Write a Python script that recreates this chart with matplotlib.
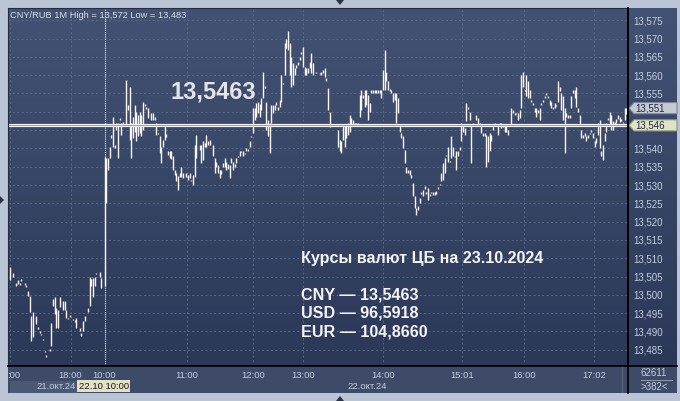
import numpy as np
import matplotlib.pyplot as plt
from matplotlib.colors import LinearSegmentedColormap
from matplotlib.patches import Polygon, Rectangle
from matplotlib.lines import Line2D

# CNY/RUB 1-minute bars; slot = bar position on the (gap-less) time axis
bar_slot = ([1, 3, 5, 6, 7, 8, 10, 11, 12, 13, 14, 15, 17, 18, 19, 20, 21, 22, 23, 25,
             26, 27, 28, 29, 30, 31, 33, 34, 35, 36, 37, 39, 40, 41, 43, 44, 45, 46, 48,
             49, 50, 51, 52, 53, 55, 56]
            + list(range(58, 85)) + list(range(86, 106)) + list(range(107, 114))
            + list(range(115, 122)) + list(range(123, 184)) + [185]
            + list(range(187, 372)))

bar_high = [
    # 21.10 evening
    13.5075, 13.5061, 13.5032, 13.5040, 13.5033, 13.5043, 13.5032, 13.5026, 13.5010, 13.4996,
    13.4942, 13.4952, 13.4942, 13.4912, 13.4900, 13.4894, 13.4880, 13.4848, 13.4835, 13.4852,
    13.4924, 13.4989, 13.4993, 13.4965, 13.4960, 13.4993, 13.4983, 13.4983, 13.4960, 13.4937,
    13.4944, 13.4935, 13.4930, 13.4938, 13.4910, 13.4897, 13.4928, 13.4942, 13.4965, 13.5050,
    13.5042, 13.5045, 13.5050, 13.5061, 13.5062, 13.5045,
    # 22.10 from 10:00
    13.5377, 13.5375, 13.5375, 13.5405, 13.5437, 13.5487, 13.5410, 13.5470, 13.5469, 13.5482,
    13.5470, 13.5471, 13.5468, 13.5587, 13.5519, 13.5569, 13.5469, 13.5487, 13.5519, 13.5500,
    13.5492, 13.5500, 13.5492, 13.5528, 13.5520, 13.5512, 13.5510,
    13.5496, 13.5496, 13.5487, 13.5470, 13.5442, 13.5433, 13.5405, 13.5424, 13.5464, 13.5438,
    13.5392, 13.5392, 13.5392, 13.5378, 13.5342, 13.5334, 13.5324, 13.5333, 13.5350, 13.5333,
    13.5333, 13.5328, 13.5333, 13.5314, 13.5328, 13.5410, 13.5437,
    13.5410, 13.5410, 13.5419, 13.5416, 13.5437, 13.5420, 13.5424,
    # 11:30 - 13:30
    13.5410, 13.5374, 13.5364, 13.5355, 13.5342, 13.5342, 13.5360, 13.5374, 13.5364, 13.5358,
    13.5355, 13.5374, 13.5364, 13.5358, 13.5374, 13.5380, 13.5392, 13.5394, 13.5392, 13.5388,
    13.5401, 13.5398, 13.5419, 13.5435, 13.5510, 13.5510, 13.5524, 13.5528, 13.5520, 13.5537,
    13.5610, 13.5570, 13.5528, 13.5478, 13.5469, 13.5519, 13.5519, 13.5519, 13.5528, 13.5514,
    13.5533, 13.5600, 13.5580, 13.5687, 13.5700, 13.5720, 13.5687, 13.5650, 13.5633, 13.5619,
    13.5628, 13.5637, 13.5650, 13.5662, 13.5678, 13.5623, 13.5619, 13.5619, 13.5637, 13.5660,
    13.5633,
    # 13:30 - 14:45
    13.5610,
    13.5607, 13.5610, 13.5614, 13.5619, 13.5592, 13.5565, 13.5500, 13.5468, 13.5468, 13.5468,
    13.5466, 13.5451, 13.5424, 13.5419, 13.5464, 13.5464, 13.5460, 13.5469, 13.5492, 13.5483,
    13.5478, 13.5469, 13.5469, 13.5469, 13.5546, 13.5560, 13.5546, 13.5560, 13.5560, 13.5546,
    13.5524, 13.5560, 13.5560, 13.5560, 13.5560, 13.5560, 13.5560, 13.5560, 13.5614, 13.5669,
    13.5610, 13.5583, 13.5562, 13.5560, 13.5550, 13.5550, 13.5550, 13.5537, 13.5464, 13.5442,
    13.5433, 13.5396, 13.5350, 13.5342, 13.5342, 13.5328, 13.5306, 13.5269, 13.5237, 13.5242,
    # 14:45 - 16:00
    13.5265, 13.5280, 13.5287, 13.5296, 13.5280, 13.5292, 13.5275, 13.5282, 13.5280, 13.5280,
    13.5285, 13.5294, 13.5304, 13.5333, 13.5360, 13.5374, 13.5383, 13.5405, 13.5366, 13.5433,
    13.5405, 13.5380, 13.5392, 13.5392, 13.5405, 13.5469, 13.5464, 13.5455, 13.5524, 13.5512,
    13.5500, 13.5464, 13.5469, 13.5466, 13.5492, 13.5483, 13.5469, 13.5464, 13.5442, 13.5442,
    13.5437, 13.5433, 13.5442, 13.5437, 13.5464, 13.5469, 13.5466, 13.5464, 13.5469, 13.5469,
    13.5462, 13.5460, 13.5464, 13.5450, 13.5466, 13.5510, 13.5505, 13.5496, 13.5498, 13.5496,
    13.5505, 13.5600, 13.5610, 13.5560,
    # 16:00 - 17:15
    13.5600, 13.5583, 13.5560, 13.5533, 13.5524, 13.5510, 13.5510, 13.5505, 13.5510, 13.5524,
    13.5533, 13.5542, 13.5550, 13.5542, 13.5533, 13.5528, 13.5512, 13.5524, 13.5519, 13.5583,
    13.5569, 13.5550, 13.5542, 13.5510, 13.5496, 13.5492, 13.5492, 13.5542, 13.5560, 13.5560,
    13.5569, 13.5510, 13.5492, 13.5450, 13.5437, 13.5442, 13.5433, 13.5437, 13.5442, 13.5450,
    13.5442, 13.5419, 13.5428, 13.5470, 13.5478, 13.5392, 13.5410, 13.5442, 13.5470, 13.5482,
    13.5500, 13.5492, 13.5475, 13.5472, 13.5480, 13.5492, 13.5487, 13.5480, 13.5473, 13.5510,
    13.5510,
]

bar_low = [
    13.5040, 13.5050, 13.5023, 13.5030, 13.5028, 13.5039, 13.5028, 13.5022, 13.4998, 13.4952,
    13.4874, 13.4884, 13.4920, 13.4908, 13.4896, 13.4890, 13.4876, 13.4844, 13.4830, 13.4846,
    13.4859, 13.4970, 13.4947, 13.4910, 13.4910, 13.4966, 13.4960, 13.4960, 13.4938, 13.4933,
    13.4940, 13.4931, 13.4925, 13.4910, 13.4900, 13.4889, 13.4901, 13.4928, 13.4952, 13.4969,
    13.5024, 13.4993, 13.5024, 13.5058, 13.5050, 13.5020,
    13.5023, 13.5250, 13.5342, 13.5374, 13.5428, 13.5405, 13.5401, 13.5450, 13.5374, 13.5478,
    13.5437, 13.5467, 13.5464, 13.5464, 13.5505, 13.5424, 13.5374, 13.5428, 13.5446, 13.5419,
    13.5435, 13.5442, 13.5433, 13.5450, 13.5516, 13.5508, 13.5483,
    13.5478, 13.5478, 13.5478, 13.5437, 13.5438, 13.5387, 13.5360, 13.5405, 13.5424, 13.5430,
    13.5383, 13.5374, 13.5370, 13.5342, 13.5328, 13.5310, 13.5287, 13.5323, 13.5323, 13.5319,
    13.5323, 13.5314, 13.5319, 13.5310, 13.5301, 13.5323, 13.5374,
    13.5396, 13.5360, 13.5369, 13.5405, 13.5405, 13.5410, 13.5410,
    13.5378, 13.5333, 13.5350, 13.5333, 13.5319, 13.5330, 13.5350, 13.5350, 13.5342, 13.5345,
    13.5319, 13.5360, 13.5342, 13.5350, 13.5360, 13.5376, 13.5378, 13.5390, 13.5378, 13.5384,
    13.5392, 13.5394, 13.5405, 13.5431, 13.5442, 13.5478, 13.5487, 13.5496, 13.5487, 13.5505,
    13.5537, 13.5566, 13.5450, 13.5433, 13.5387, 13.5469, 13.5496, 13.5505, 13.5519, 13.5505,
    13.5514, 13.5528, 13.5576, 13.5600, 13.5674, 13.5669, 13.5600, 13.5569, 13.5574, 13.5600,
    13.5619, 13.5628, 13.5642, 13.5658, 13.5623, 13.5600, 13.5600, 13.5605, 13.5619, 13.5605,
    13.5600,
    13.5605,
    13.5603, 13.5600, 13.5605, 13.5596, 13.5583, 13.5505, 13.5459, 13.5460, 13.5460, 13.5460,
    13.5462, 13.5405, 13.5392, 13.5387, 13.5424, 13.5405, 13.5428, 13.5437, 13.5446, 13.5460,
    13.5464, 13.5460, 13.5460, 13.5464, 13.5487, 13.5505, 13.5537, 13.5514, 13.5519, 13.5478,
    13.5500, 13.5550, 13.5550, 13.5550, 13.5550, 13.5550, 13.5550, 13.5537, 13.5560, 13.5560,
    13.5583, 13.5560, 13.5558, 13.5550, 13.5528, 13.5533, 13.5469, 13.5496, 13.5446, 13.5428,
    13.5401, 13.5360, 13.5333, 13.5333, 13.5328, 13.5319, 13.5269, 13.5237, 13.5219, 13.5233,
    13.5250, 13.5275, 13.5269, 13.5290, 13.5275, 13.5260, 13.5271, 13.5278, 13.5273, 13.5273,
    13.5276, 13.5290, 13.5300, 13.5310, 13.5314, 13.5333, 13.5378, 13.5364, 13.5362, 13.5374,
    13.5378, 13.5376, 13.5342, 13.5378, 13.5396, 13.5419, 13.5446, 13.5437, 13.5474, 13.5508,
    13.5478, 13.5360, 13.5460, 13.5462, 13.5478, 13.5464, 13.5464, 13.5442, 13.5433, 13.5433,
    13.5350, 13.5364, 13.5392, 13.5419, 13.5450, 13.5460, 13.5462, 13.5437, 13.5464, 13.5455,
    13.5458, 13.5446, 13.5446, 13.5437, 13.5462, 13.5464, 13.5496, 13.5492, 13.5494, 13.5478,
    13.5483, 13.5510, 13.5569, 13.5556,
    13.5542, 13.5537, 13.5537, 13.5528, 13.5519, 13.5500, 13.5487, 13.5496, 13.5478, 13.5519,
    13.5528, 13.5537, 13.5546, 13.5537, 13.5519, 13.5510, 13.5508, 13.5510, 13.5515, 13.5528,
    13.5556, 13.5505, 13.5478, 13.5387, 13.5487, 13.5483, 13.5483, 13.5510, 13.5550, 13.5537,
    13.5514, 13.5500, 13.5460, 13.5428, 13.5428, 13.5433, 13.5420, 13.5428, 13.5438, 13.5446,
    13.5428, 13.5405, 13.5414, 13.5437, 13.5401, 13.5378, 13.5369, 13.5419, 13.5446, 13.5478,
    13.5460, 13.5451, 13.5451, 13.5468, 13.5470, 13.5480, 13.5473, 13.5476, 13.5469, 13.5478,
    13.5494,
]

time_slots = [1.2, 37.5, 107.2, 147.2, 177.2, 225.2, 272.2, 309.8, 351.8]
time_labels = [":00", "18:00", "11:00", "12:00", "13:00", "14:00", "15:01", "16:00", "17:02"]
day_break = 57.9
price_ticks = [13.485, 13.490, 13.495, 13.500, 13.505, 13.510, 13.515, 13.520, 13.525,
               13.530, 13.535, 13.540, 13.545, 13.550, 13.555, 13.560, 13.565, 13.570, 13.575]
hidden_ticks = [13.545, 13.550]   # covered by the price tags
last_price = 13.551
cb_rate = 13.5463
cb_lines = ["Курсы валют ЦБ на 23.10.2024", "CNY \u2014 13,5463", "USD \u2014 96,5918",
            "EUR \u2014 104,8660"]

plt.rcParams['font.family'] = ['Liberation Sans', 'DejaVu Sans']

W, H = 680, 401
def box(x0, y0, x1, y1):
    return [x0 / W, 1 - y1 / H, (x1 - x0) / W, (y1 - y0) / H]
def fx(x):
    return x / W
def fy(y):
    return 1 - y / H

fig = plt.figure(figsize=(W / 100, H / 100), dpi=100)
fig.patch.set_facecolor('#b9c5d5')

# panel background
bg = fig.add_axes(box(8, 8, 677, 366))
bg.imshow(np.linspace(0, 1, 256).reshape(-1, 1), aspect='auto', extent=[0, 1, 0, 1],
          cmap=LinearSegmentedColormap.from_list('bg', ['#435273', '#2b3858']))
bg.axis('off')

ax = fig.add_axes(box(8, 8, 628, 366))
ax.patch.set_visible(False)
ax.set_xlim(0, 372)
ax.set_ylim(13.48057, 13.57835)
ax.set_yticks(price_ticks)
ax.set_yticklabels(["" if v in hidden_ticks else f"{v:.3f}".replace('.', ',')
                    for v in price_ticks])
ax.yaxis.tick_right()
ax.set_xticks(time_slots)
ax.set_xticklabels([])
ax.tick_params(length=0, labelsize=7, labelcolor='#c3cee0', pad=4)
ax.grid(color='#5a6986', ls=(0, (2, 2.5)), lw=0.7)
for s in ['top', 'left']:
    ax.spines[s].set_color('#222c42')
    ax.spines[s].set_linewidth(0.8)
for s in ['right', 'bottom']:
    ax.spines[s].set_color('black')
    ax.spines[s].set_linewidth(1.2)

ax.axvline(day_break, color='#f2f2f2', lw=0.8, ls=(0, (1, 1)))
ax.vlines(bar_slot, bar_low, bar_high, color='#f8f5f2', lw=1.0)
ax.axhline(cb_rate, color='#f4f4f4', lw=2.3)
ax.axhline(cb_rate, color='#9aa0ab', lw=0.7)

fig.text(fx(10), fy(15), "CNY/RUB 1M High = 13,572 Low = 13,483", fontsize=6.7,
         color='#d8e0ec', va='center')
fig.text(fx(170), fy(92), "13,5463", fontsize=17, fontweight='bold', color='#e4e4e8',
         va='center')
for i, t in enumerate(cb_lines):
    yy = 258 if i == 0 else 276 + 18.7 * i
    fig.text(fx(301), fy(yy), t, fontsize=11.6, fontweight='bold', color='#f4f4f4',
             va='center')

# price tags on the right scale
def price_tag(v, face, edge):
    y = H - ax.transData.transform((0, v))[1]
    pts = [(629, y), (634, y - 5.6), (677, y - 5.6), (677, y + 5.6), (634, y + 5.6)]
    fig.patches.append(Polygon([(fx(a), fy(b)) for a, b in pts], closed=True,
                               transform=fig.transFigure, fc=face, ec=edge, lw=0.8))
    fig.text(fx(635), fy(y), f"{v:.3f}".replace('.', ','), fontsize=7, color='#1e2a40',
             va='center')

price_tag(last_price, '#c4c9d2', '#7d889c')
price_tag(cb_rate, '#dfe3c6', '#8c917a')

# time axis strip
axt = fig.add_axes(box(8, 366, 628, 393))
axt.set_facecolor('#3d4b69')
axt.set_xlim(0, 372)
axt.set_ylim(0, 27)
for s in axt.spines.values():
    s.set_visible(False)
axt.set_xticks([])
axt.set_yticks([])
for xs, lab in zip(time_slots, time_labels):
    axt.text(xs + (2.5 if lab == ":00" else 0), 18, lab, fontsize=6.8, color='#c3cee0',
             ha='center', va='center')
axt.text(day_break, 18, "10:00", fontsize=6.8, color='#c3cee0', ha='center', va='center')
axt.add_patch(Rectangle((1.2, 0.5), 40, 12, fc='#4a5874', ec='none'))
axt.text(41, 6.5, "21.окт.24", fontsize=6.8, color='#c3cee0', ha='right', va='center')
axt.add_patch(Rectangle((41.5, 1), 31.5, 12, fc='#e2e1c4', ec='none'))
axt.text(42.5, 6.5, "22.10 10:00", fontsize=6.8, color='#1a1a1a', ha='left', va='center')
axt.text(203.5, 6.5, "22.окт.24", fontsize=6.8, color='#c3cee0', ha='left', va='center')
axt.axvline(368.5, color='#56637c', lw=1)

axr = fig.add_axes(box(628, 366, 677, 393))
axr.set_facecolor('#3d4b69')
axr.set_xticks([])
axr.set_yticks([])
for s in axr.spines.values():
    s.set_visible(False)
fig.text(fx(654), fy(373), "62611", fontsize=7, color='#c3cee0', ha='center', va='center')
fig.text(fx(654), fy(387), ">382<", fontsize=7, color='#c3cee0', ha='center', va='center')
fig.add_artist(Line2D([fx(641), fx(672)], [fy(380), fy(380)], color='#8e9ab0', lw=0.7))

# black separators of the scales
fig.add_artist(Line2D([fx(628), fx(628)], [fy(8), fy(393)], color='black', lw=1.2))
fig.add_artist(Line2D([fx(8), fx(677)], [fy(366), fy(366)], color='black', lw=1.2))

# small scroll markers on the frame
for pts in ([(336, 0), (344, 0), (340, 5)], [(336, 401), (344, 401), (340, 396)],
            [(0, 196), (0, 204), (4, 200)]):
    fig.patches.append(Polygon([(fx(a), fy(b)) for a, b in pts], closed=True,
                               transform=fig.transFigure, fc='#2a3346', ec='none'))

plt.savefig('out.png', dpi=100, facecolor=fig.get_facecolor())
